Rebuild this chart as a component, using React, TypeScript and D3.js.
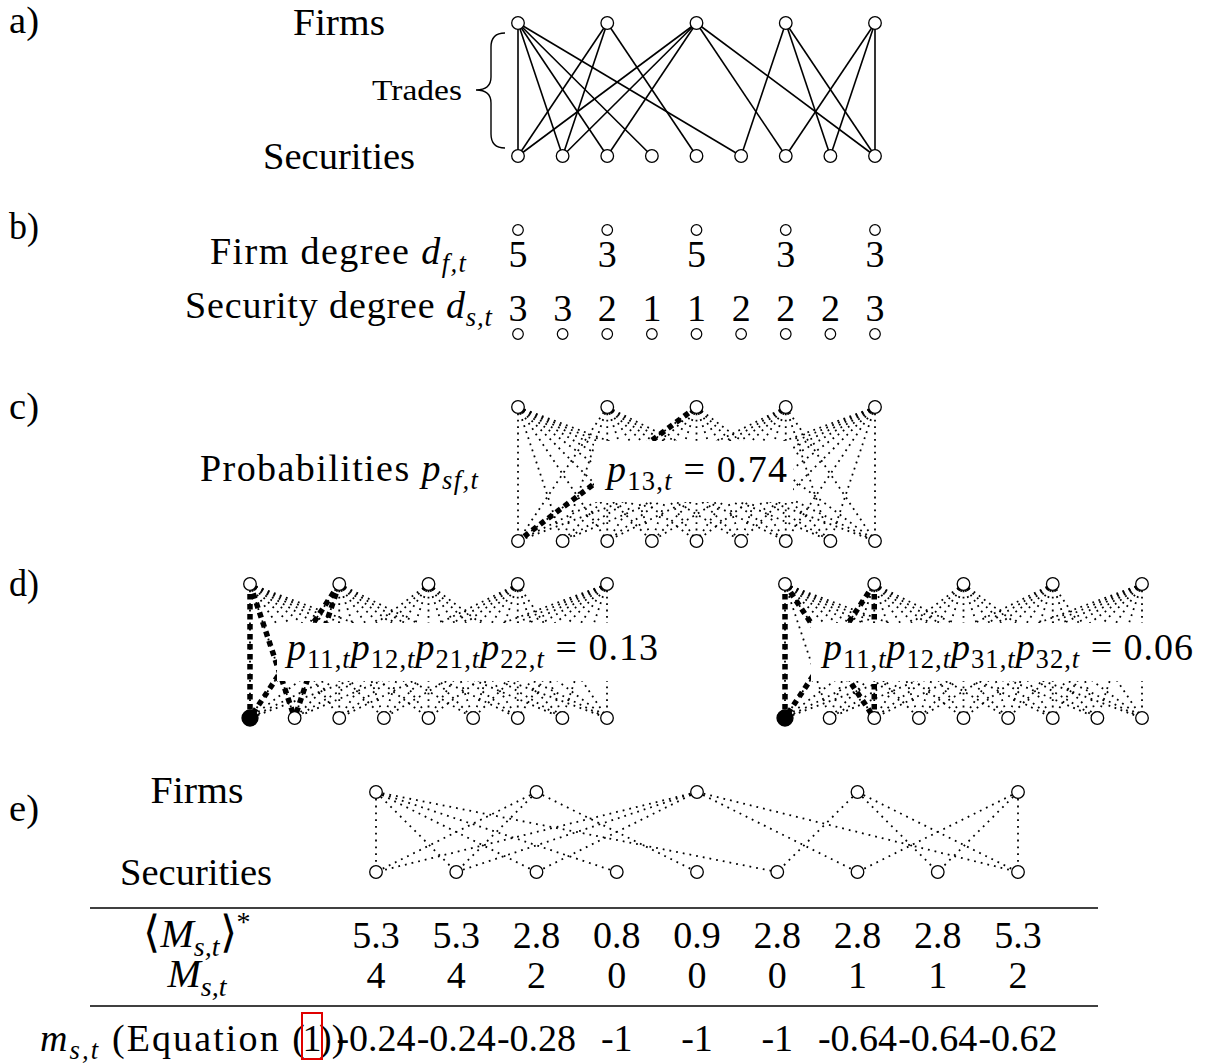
import React from "react";
import * as d3 from "d3";

const W = 1205;
const H = 1064;
const FONT = "Liberation Serif";

// ---------- data ----------
const firmIds = [1, 2, 3, 4, 5];
const securityIds = [1, 2, 3, 4, 5, 6, 7, 8, 9];
// observed trades: [firm, security]
const trades: [number, number][] = [
  [1, 1], [1, 2], [1, 3], [1, 4], [1, 6],
  [2, 1], [2, 2], [2, 5],
  [3, 1], [3, 2], [3, 3], [3, 7], [3, 9],
  [4, 6], [4, 8], [4, 9],
  [5, 7], [5, 8], [5, 9],
];
const firmDegree = [5, 3, 5, 3, 3];
const securityDegree = [3, 3, 2, 1, 1, 2, 2, 2, 3];
const highlightC: [number, number][] = [[3, 1]];
const highlightDLeft: [number, number][] = [[1, 1], [2, 1], [1, 2], [2, 2]];
const highlightDRight: [number, number][] = [[1, 1], [2, 1], [1, 3], [2, 3]];
const expectedM = ["5.3", "5.3", "2.8", "0.8", "0.9", "2.8", "2.8", "2.8", "5.3"];
const observedM = ["4", "4", "2", "0", "0", "0", "1", "1", "2"];
const mValues = ["-0.24", "-0.24", "-0.28", "-1", "-1", "-1", "-0.64", "-0.64", "-0.62"];

// ---------- scales ----------
const xMain = d3.scalePoint<number>().domain(securityIds).range([518, 875]);
const xDL = d3.scalePoint<number>().domain(securityIds).range([250, 607]);
const xDR = d3.scalePoint<number>().domain(securityIds).range([785, 1142]);
const xE = d3.scalePoint<number>().domain(securityIds).range([376, 1018]);
const firmX = (sc: d3.ScalePoint<number>, f: number) => sc(2 * f - 1) as number;

type Part = { s: string; it?: boolean; sub?: boolean; sup?: boolean; big?: number };

function MathText({
  x, y, parts, size, anchor = "start", len,
}: { x: number; y: number; parts: Part[]; size: number; anchor?: string; len?: number }) {
  let offset = 0;
  const spans = parts.map((p, i) => {
    const target = p.sub ? size * 0.22 : p.sup ? -size * 0.4 : 0;
    const dy = target - offset;
    offset = target;
    return (
      <tspan
        key={i}
        dy={dy}
        fontStyle={p.it ? "italic" : "normal"}
        fontSize={p.sub || p.sup ? size * 0.7 : p.big ? size * p.big : size}
      >
        {p.s}
      </tspan>
    );
  });
  const extra: any = len ? { textLength: len, lengthAdjust: "spacing" } : {};
  return (
    <text x={x} y={y} fontSize={size} textAnchor={anchor} fontFamily={FONT} style={{ whiteSpace: "pre" }} fill="#000" {...extra}>
      {spans}
    </text>
  );
}

function Word({ x, y, t, size, anchor = "middle", len }: { x: number; y: number; t: string; size: number; anchor?: string; len?: number }) {
  const extra: any = len ? { textLength: len, lengthAdjust: "spacingAndGlyphs" } : {};
  return (
    <text x={x} y={y} fontSize={size} fontFamily={FONT} textAnchor={anchor} {...extra}>
      {t}
    </text>
  );
}

function Nodes({ sc, fy, sy, r = 6.3, filled = [] as number[] }: { sc: d3.ScalePoint<number>; fy: number; sy: number; r?: number; filled?: number[] }) {
  return (
    <g>
      {firmIds.map((f) => (
        <circle key={"f" + f} cx={firmX(sc, f)} cy={fy} r={r} fill="#fff" stroke="#000" strokeWidth={1.3} />
      ))}
      {securityIds.map((s) => (
        <circle
          key={"s" + s}
          cx={sc(s)}
          cy={sy}
          r={filled.includes(s) ? 8 : r}
          fill={filled.includes(s) ? "#000" : "#fff"}
          stroke="#000"
          strokeWidth={1.3}
        />
      ))}
    </g>
  );
}

function ProbPanel({ sc, fy, sy, hl, box, label, filled = [] as number[] }: any) {
  const all: [number, number][] = [];
  firmIds.forEach((f) => securityIds.forEach((s) => all.push([f, s])));
  return (
    <g>
      {all.map(([f, s]) => (
        <line
          key={f + "-" + s}
          x1={firmX(sc, f)}
          y1={fy}
          x2={sc(s)}
          y2={sy}
          stroke="#000"
          strokeWidth={1.8}
          strokeDasharray="1.8 4.6"
        />
      ))}
      {hl.map(([f, s]: [number, number]) => (
        <line
          key={"h" + f + "-" + s}
          x1={firmX(sc, f)}
          y1={fy}
          x2={sc(s)}
          y2={sy}
          stroke="#000"
          strokeWidth={5.5}
          strokeDasharray="5.5 4.5"
        />
      ))}
      <rect x={box[0]} y={box[1]} width={box[2]} height={box[3]} fill="#fff" />
      {label}
      <Nodes sc={sc} fy={fy} sy={sy} filled={filled} />
    </g>
  );
}

const sub = (s: string): Part => ({ s, it: true, sub: true });
const subR = (s: string): Part => ({ s, sub: true });
const it = (s: string): Part => ({ s, it: true });
const rm = (s: string): Part => ({ s });
const pSub = (ij: string): Part[] => [it("p"), subR(ij + ","), sub("t")];

export default function App() {
  const FS = 38;
  return (
    <div style={{ position: "absolute", left: 0, top: 0, width: W, height: H, background: "#fff" }}>
      <svg width={W} height={H} viewBox={`0 0 ${W} ${H}`} style={{ display: "block" }}>
        <rect width={W} height={H} fill="#fff" />
        {/* panel letters */}
        {[["a)", 33], ["b)", 239], ["c)", 419], ["d)", 596], ["e)", 821]].map(([t, y]) => (
          <Word key={t as string} x={9} y={y as number} t={t as string} size={FS} anchor="start" len={30} />
        ))}

        {/* ---------- a ---------- */}
        <Word x={339} y={35} t="Firms" size={FS} len={92} />
        <Word x={339} y={169} t="Securities" size={FS} len={152} />
        <Word x={462} y={100} t="Trades" size={29} anchor="end" len={90} />
        <path
          d="M505,33 Q491,33 491,47 L491,77 Q491,90 476,90 Q491,90 491,103 L491,134 Q491,148 505,148"
          fill="none"
          stroke="#000"
          strokeWidth={1.4}
        />
        {trades.map(([f, s]) => (
          <line key={"a" + f + s} x1={firmX(xMain, f)} y1={23} x2={xMain(s)} y2={156} stroke="#000" strokeWidth={1.6} />
        ))}
        <Nodes sc={xMain} fy={23} sy={156} />

        {/* ---------- b ---------- */}
        <MathText x={466} y={264} size={FS} anchor="end" len={256} parts={[rm("Firm degree "), it("d"), sub("f,t")]} />
        <MathText x={492} y={318} size={FS} anchor="end" len={307} parts={[rm("Security degree "), it("d"), sub("s,t")]} />
        {firmIds.map((f, i) => (
          <g key={"bf" + f}>
            <circle cx={firmX(xMain, f)} cy={230} r={5.3} fill="#fff" stroke="#000" strokeWidth={1.2} />
            <Word x={firmX(xMain, f)} y={267} t={String(firmDegree[i])} size={FS} />
          </g>
        ))}
        {securityIds.map((s, i) => (
          <g key={"bs" + s}>
            <circle cx={xMain(s)} cy={334} r={5.3} fill="#fff" stroke="#000" strokeWidth={1.2} />
            <Word x={xMain(s) as number} y={321} t={String(securityDegree[i])} size={FS} />
          </g>
        ))}

        {/* ---------- c ---------- */}
        <MathText x={478} y={481} size={FS} anchor="end" len={278} parts={[rm("Probabilities "), it("p"), sub("sf,t")]} />
        <ProbPanel
          sc={xMain}
          fy={407}
          sy={541}
          hl={highlightC}
          box={[594, 441, 199, 61]}
          label={<MathText x={607} y={482} size={FS} len={180} parts={[...pSub("13"), rm(" = 0.74")]} />}
        />

        {/* ---------- d ---------- */}
        <ProbPanel
          sc={xDL}
          fy={584}
          sy={718}
          hl={highlightDLeft}
          filled={[1]}
          box={[277, 623, 390, 58]}
          label={
            <MathText
              x={287}
              y={660}
              size={FS}
              len={371}
              parts={[...pSub("11"), ...pSub("12"), ...pSub("21"), ...pSub("22"), rm(" = 0.13")]}
            />
          }
        />
        <ProbPanel
          sc={xDR}
          fy={584}
          sy={718}
          hl={highlightDRight}
          filled={[1]}
          box={[811, 623, 394, 58]}
          label={
            <MathText
              x={823}
              y={660}
              size={FS}
              len={370}
              parts={[...pSub("11"), ...pSub("12"), ...pSub("31"), ...pSub("32"), rm(" = 0.06")]}
            />
          }
        />

        {/* ---------- e ---------- */}
        <Word x={197} y={803} t="Firms" size={FS} len={93} />
        <Word x={196} y={885} t="Securities" size={FS} len={152} />
        {trades.map(([f, s]) => (
          <line
            key={"e" + f + s}
            x1={firmX(xE, f)}
            y1={792}
            x2={xE(s)}
            y2={872}
            stroke="#000"
            strokeWidth={1.8}
            strokeDasharray="1.8 5"
          />
        ))}
        <Nodes sc={xE} fy={792} sy={872} />

        <line x1={90} x2={1098} y1={908} y2={908} stroke="#000" strokeWidth={1.5} />
        <line x1={90} x2={1098} y1={1006} y2={1006} stroke="#000" strokeWidth={1.5} />
        <MathText
          x={197}
          y={947}
          size={40}
          anchor="middle"
          parts={[{ s: "\u27E8", big: 1.1 }, it("M"), sub("s,t"), { s: "\u27E9", big: 1.1 }, { s: "*", sup: true }]}
        />
        <MathText x={197} y={987} size={40} anchor="middle" parts={[it("M"), sub("s,t")]} />
        {securityIds.map((s, i) => (
          <g key={"t" + s}>
            <Word x={xE(s) as number} y={948} t={expectedM[i]} size={FS} />
            <Word x={xE(s) as number} y={988} t={observedM[i]} size={FS} />
            <Word x={xE(s) as number} y={1051} t={mValues[i]} size={FS} />
          </g>
        ))}
        <MathText x={305} y={1051} size={FS} anchor="end" len={265} parts={[it("m"), sub("s,t"), rm(" (Equation (")]} />
        <Word x={312} y={1051} t="1" size={FS} />
        <Word x={319} y={1051} t="))" size={FS} anchor="start" />
        <rect x={302} y={1013} width={20} height={46} fill="none" stroke="#e00000" strokeWidth={2} />
      </svg>
    </div>
  );
}
